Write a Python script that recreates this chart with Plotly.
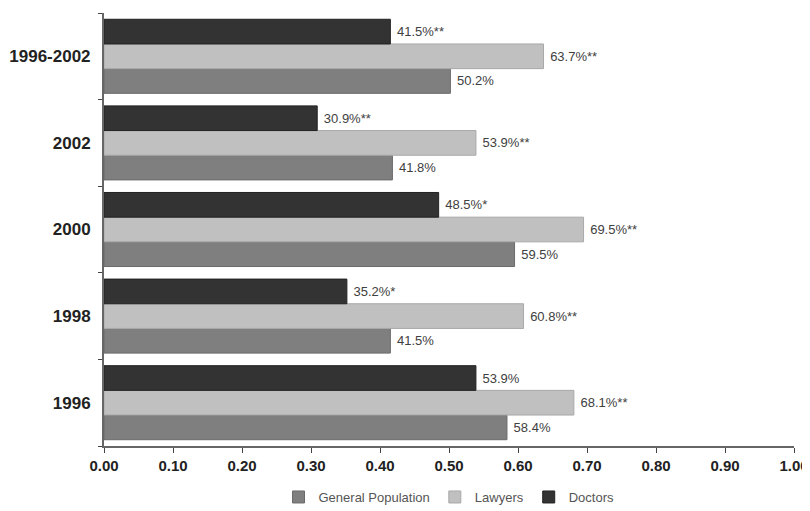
import plotly.graph_objects as go

categories = ["1996", "1998", "2000", "2002", "1996-2002"]
general_population = [0.584, 0.415, 0.595, 0.418, 0.502]
lawyers = [0.681, 0.608, 0.695, 0.539, 0.637]
doctors = [0.539, 0.352, 0.485, 0.309, 0.415]
general_marks = ["", "", "", "", ""]
lawyer_marks = ["**", "**", "**", "**", "**"]
doctor_marks = ["", "*", "*", "**", "**"]
x_ticks = [0.0, 0.1, 0.2, 0.3, 0.4, 0.5, 0.6, 0.7, 0.8, 0.9, 1.0]


def labels(vals, marks):
    return [f" {v*100:.1f}%{m}" for v, m in zip(vals, marks)]


series = [
    ("General Population", general_population, general_marks, "#7f7f7f", "#6a6a6a"),
    ("Lawyers", lawyers, lawyer_marks, "#c0c0c0", "#a8a8a8"),
    ("Doctors", doctors, doctor_marks, "#333333", "#222222"),
]

fig = go.Figure()
for name, vals, marks, color, line in series:
    fig.add_trace(go.Bar(
        y=categories, x=vals, name=name, orientation="h",
        marker=dict(color=color, line=dict(color=line, width=1)),
        text=labels(vals, marks), textposition="outside",
        textfont=dict(family="Arial, Liberation Sans", size=13, color="#404040"),
        cliponaxis=False,
    ))

fig.update_layout(
    barmode="group", bargap=0.145, bargroupgap=0,
    width=810, height=511,
    margin=dict(l=96, r=24, t=5, b=73, autoexpand=False),
    plot_bgcolor="white", paper_bgcolor="white",
    font=dict(family="Arial, Liberation Sans", color="#222222"),
    legend=dict(orientation="h", x=0.5, xanchor="center",
                yref="container", y=0.043, yanchor="middle",
                font=dict(size=13, color="#555555"), itemwidth=30, tracegroupgap=0),
    showlegend=True,
)
fig.update_xaxes(range=[0, 1], tickvals=x_ticks,
                 ticktext=[f"<b>{t:.2f}</b>" for t in x_ticks], automargin=False,
                 showgrid=False, zeroline=False, showline=True, linecolor="#666666", linewidth=2,
                 ticks="outside", ticklen=5, tickcolor="#444444",
                 tickfont=dict(size=15, color="#222222"))
fig.update_yaxes(tickvals=categories, ticktext=[f"<b>{c}</b>" for c in categories],
                 automargin=False,
                 showgrid=False, showline=True, linecolor="#666666", linewidth=2,
                 ticks="outside", ticklen=4, tickson="boundaries", tickcolor="#444444",
                 tickfont=dict(size=17, color="#222222"), ticklabelstandoff=8)

fig.write_html("out.html")
